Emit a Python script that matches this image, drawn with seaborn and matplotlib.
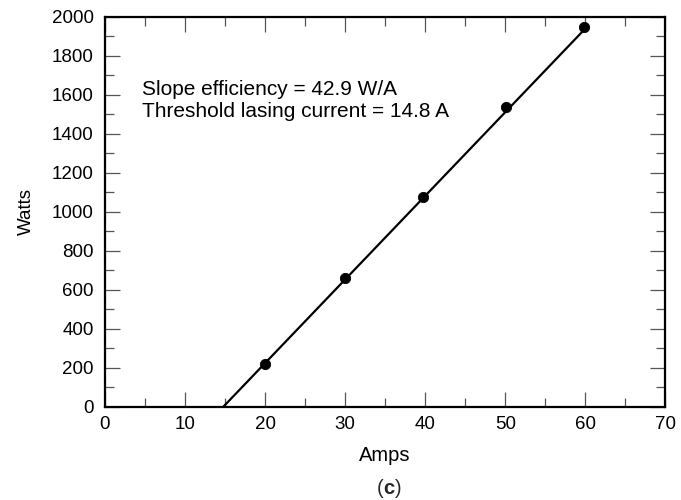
import matplotlib
matplotlib.use("Agg")
import matplotlib.pyplot as plt
import seaborn as sns
import pandas as pd
from matplotlib.ticker import MultipleLocator

# Data
amps = [20.0, 30.0, 39.7, 50.1, 59.8]
watts = [218, 660, 1075, 1537, 1948]
fit_amps = [14.8, 60.0]
fit_watts = [0, 1939]
annotation = ["Slope efficiency = 42.9 W/A", "Threshold lasing current = 14.8 A"]

sns.set_theme(style="white")
plt.rcParams['font.family'] = ['Liberation Sans', 'DejaVu Sans']

fig = plt.figure(figsize=(6.81, 5.0), dpi=100)
ax = fig.add_axes([0.154, 0.1866, 0.823, 0.78])

pts = pd.DataFrame({"Amps": amps, "Watts": watts})
fit = pd.DataFrame({"Amps": fit_amps, "Watts": fit_watts})
sns.lineplot(data=fit, x="Amps", y="Watts", color="black", linewidth=1.6, ax=ax)
sns.scatterplot(data=pts, x="Amps", y="Watts", color="black", s=55, edgecolor="black", zorder=3, ax=ax)

ax.set_xlim(0, 70)
ax.set_ylim(0, 2000)
ax.xaxis.set_major_locator(MultipleLocator(10))
ax.xaxis.set_minor_locator(MultipleLocator(5))
ax.yaxis.set_major_locator(MultipleLocator(200))
ax.yaxis.set_minor_locator(MultipleLocator(100))
ax.tick_params(which="both", direction="in", top=True, right=True, bottom=True, left=True,
               color="#555555", width=0.9, labelsize=13.5, labelcolor="black")
ax.tick_params(which="major", length=10.5)
ax.tick_params(which="minor", length=6.5)
ax.tick_params(axis="x", which="major", pad=7)
ax.tick_params(axis="y", which="major", pad=8)
for s in ax.spines.values():
    s.set_color("black")
    s.set_linewidth(1.6)
    s.set_visible(True)

ax.set_xlabel("Amps", fontsize=14.5, labelpad=9, color="black")
ax.set_ylabel("Watts", fontsize=13.5, labelpad=12, color="black")

ax.text(0.067, 0.785, annotation[0] + "\n" + annotation[1], transform=ax.transAxes,
        fontsize=15, va="center", ha="left", linespacing=1.15, color="black")

fig.text(0.5635, 0.024, "(", fontsize=14.5, ha="right", va="center")
fig.text(0.5635, 0.024, "c", fontsize=14.5, ha="left", va="center", fontweight="bold")
fig.text(0.5795, 0.024, ")", fontsize=14.5, ha="left", va="center")

fig.savefig("out.png", dpi=100)
